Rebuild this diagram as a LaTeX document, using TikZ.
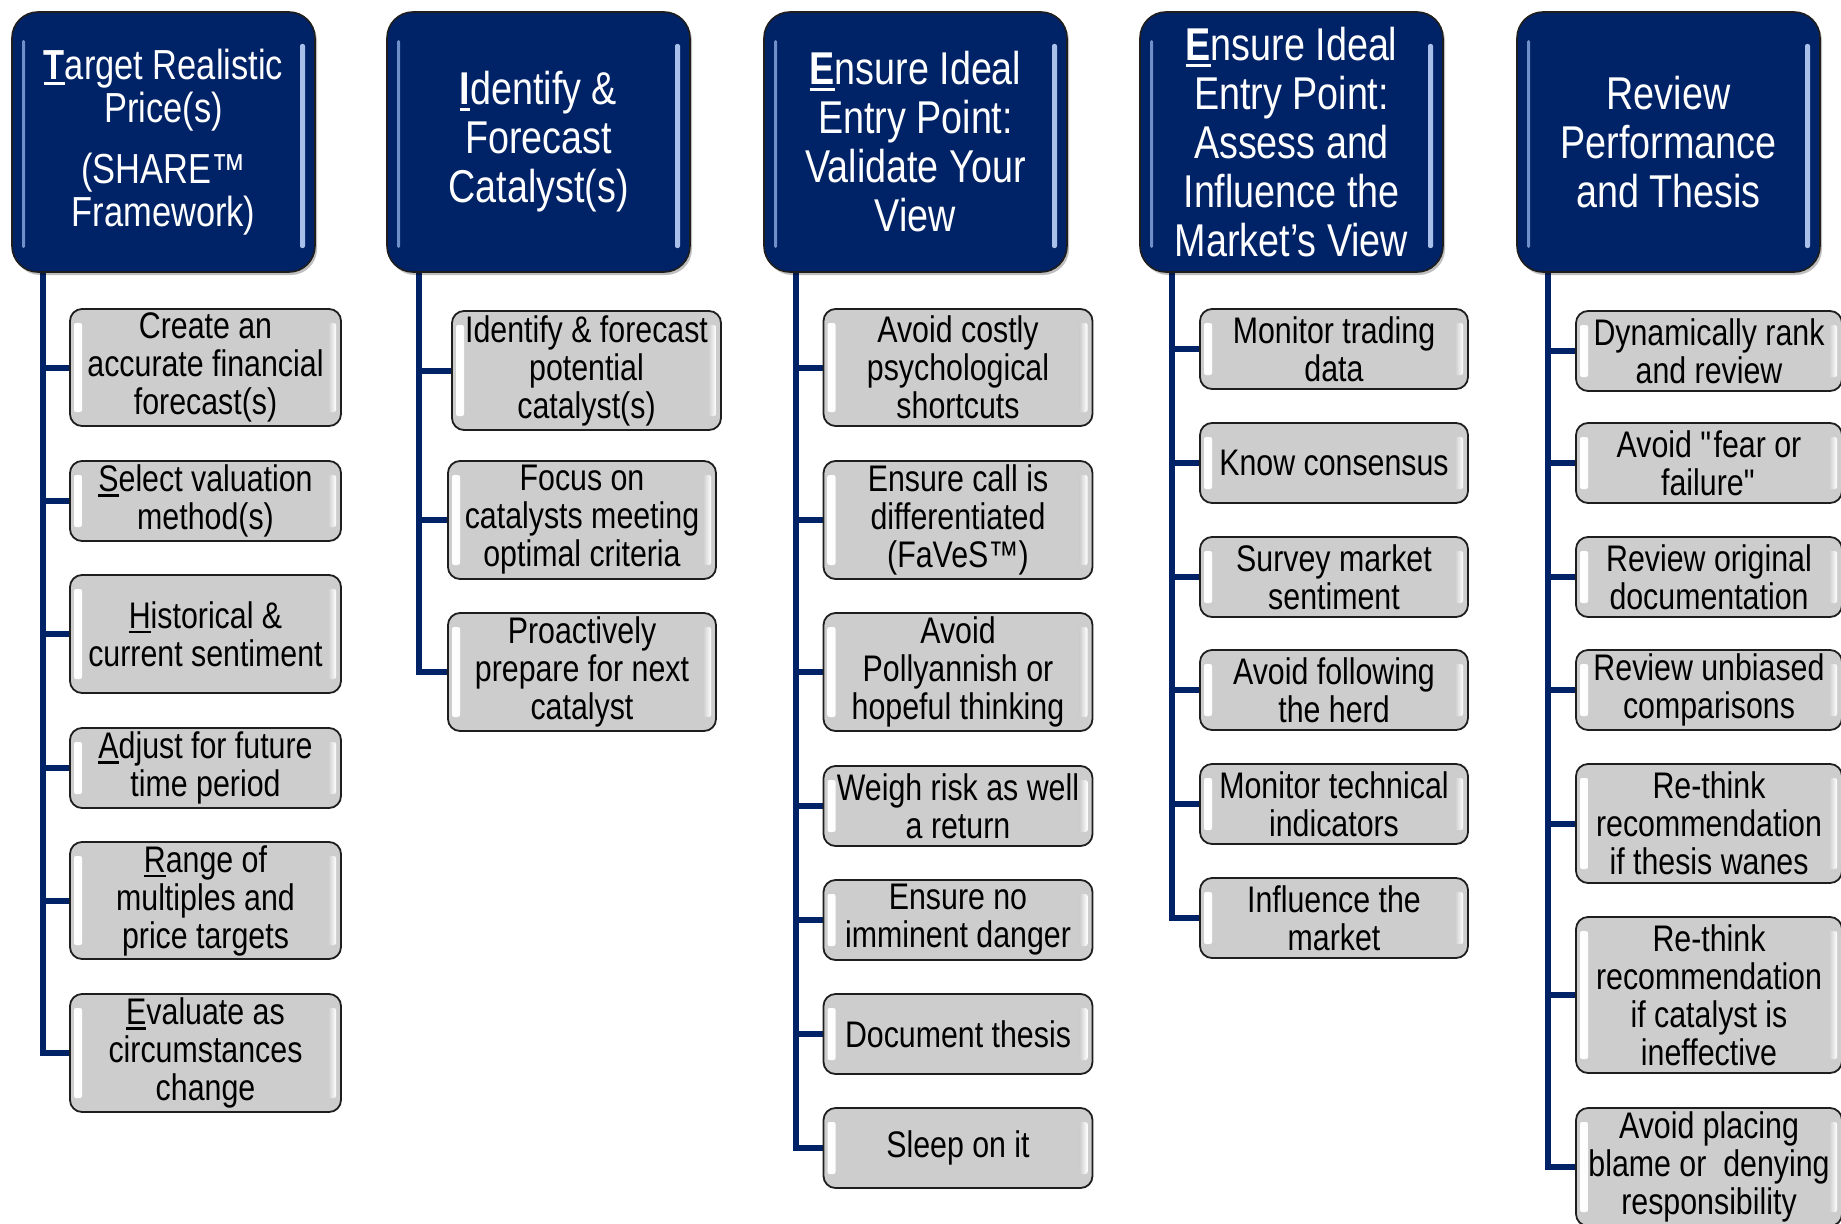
\documentclass[tikz,border=0pt]{standalone}
\usepackage{fontspec}
\setmainfont{Liberation Sans}[FakeStretch=0.82]
\usetikzlibrary{backgrounds}

\definecolor{navy}{HTML}{002266}
\definecolor{boxgray}{HTML}{CDCDCD}
\definecolor{edge}{HTML}{1E1E1E}
\definecolor{glowblue}{HTML}{6F8FC8}
\definecolor{glowlight}{HTML}{A9C1EA}

% underlined initial letter (the SHARE acronym)
\newcommand\initial[1]{\setbox0=\hbox{#1}\rlap{\rule[-0.14em]{\wd0}{0.07em}}\box0}
% straight double quote, set as a glyph so the TeX mapping leaves it alone
\newcommand\dq{\XeTeXglyph\XeTeXcharglyph"22\relax}

\tikzset{
  head/.style={draw=edge, line width=1.6pt, fill=navy, rounded corners=26pt,
    minimum width=303pt, minimum height=260pt, inner sep=0pt, text=white,
    align=center, font=\fontsize{46}{49}\selectfont,
    preaction={fill=black, opacity=0.25, transform canvas={xshift=2pt, yshift=-3pt}},
    path picture={
      \fill[glowblue, rounded corners=1.5pt]
        ([xshift=10pt,yshift=-28pt]path picture bounding box.north west) rectangle
        ([xshift=13pt,yshift=24pt]path picture bounding box.south west);
      \fill[glowlight, rounded corners=2pt]
        ([xshift=-10pt,yshift=-32pt]path picture bounding box.north east) rectangle
        ([xshift=-15pt,yshift=24pt]path picture bounding box.south east);
    }},
  item/.style={draw=edge, line width=1.8pt, fill=boxgray, rounded corners=12pt,
    inner sep=0pt, align=center, font=\fontsize{37}{38}\selectfont,
    path picture={
      \shade[left color=white, right color=boxgray, rounded corners=2pt]
        ([xshift=4pt,yshift=-14pt]path picture bounding box.north west) rectangle
        ([xshift=12pt,yshift=14pt]path picture bounding box.south west);
      \shade[left color=boxgray, right color=white, rounded corners=2pt]
        ([xshift=-13pt,yshift=-14pt]path picture bounding box.north east) rectangle
        ([xshift=-5pt,yshift=14pt]path picture bounding box.south east);
    }},
  link/.style={draw=navy, line width=6pt, line join=miter}
}

\begin{document}
\begin{tikzpicture}[x=1pt, y=-1pt]
\path[use as bounding box, clip] (0,0) rectangle (1841,1223);

% ---- column headers ----
\node[head, font=\fontsize{42}{43}\selectfont] (h1) at (163.5,142)
  {\initial{\bfseries T}arget Realistic\\Price(s)\\[18pt](SHARE™\\Framework)};
\node[head] (h2) at (538.5,142) {\initial{\bfseries I}dentify \&\\Forecast\\Catalyst(s)};
\node[head] (h3) at (915.5,142) {\initial{\bfseries E}nsure Ideal\\Entry Point:\\Validate Your\\View};
\node[head] (h4) at (1291.5,142) {\initial{\bfseries E}nsure Ideal\\Entry Point:\\Assess and\\Influence the\\Market’s View};
\node[head] (h5) at (1668.5,142) {Review\\Performance\\and Thesis};

% ---- column 1 ----
\begin{scope}[every node/.append style={minimum width=271pt}]
\node[item, minimum height=117pt] (a1) at (205.5,367.5) {Create an\\accurate financial\\forecast(s)};
\node[item, minimum height=80pt]  (a2) at (205.5,501) {\initial{S}elect valuation\\method(s)};
\node[item, minimum height=118pt] (a3) at (205.5,634) {\initial{H}istorical \&\\current sentiment};
\node[item, minimum height=80pt]  (a4) at (205.5,768) {\initial{A}djust for future\\time period};
\node[item, minimum height=117pt] (a5) at (205.5,900.5) {\initial{R}ange of\\multiples and\\price targets};
\node[item, minimum height=118pt] (a6) at (205.5,1053) {\initial{E}valuate as\\circumstances\\change};
\end{scope}

% ---- column 2 ----
\node[item, minimum width=269pt, minimum height=119pt] (b1) at (586.5,370.5) {Identify \& forecast\\potential\\catalyst(s)};
\node[item, minimum width=268pt, minimum height=118pt] (b2) at (582,520) {Focus on\\catalysts meeting\\optimal criteria};
\node[item, minimum width=268pt, minimum height=118pt] (b3) at (582,672) {Proactively\\prepare for next\\catalyst};

% ---- column 3 ----
\begin{scope}[every node/.append style={minimum width=269pt}]
\node[item, minimum height=117pt] (c1) at (958,367.5) {Avoid costly\\psychological\\shortcuts};
\node[item, minimum height=118pt] (c2) at (958,520) {Ensure call is\\differentiated\\(FaVeS™)};
\node[item, minimum height=118pt] (c3) at (958,672) {Avoid\\Pollyannish or\\hopeful thinking};
\node[item, minimum height=80pt]  (c4) at (958,806) {Weigh risk as well\\a return};
\node[item, minimum height=80pt]  (c5) at (958,920) {Ensure no\\imminent danger};
\node[item, minimum height=80pt]  (c6) at (958,1034) {Document thesis};
\node[item, minimum height=80pt]  (c7) at (958,1148) {Sleep on it};
\end{scope}

% ---- column 4 ----
\begin{scope}[every node/.append style={minimum width=268pt, minimum height=80pt}]
\node[item] (d1) at (1334,349) {Monitor trading\\data};
\node[item] (d2) at (1334,463) {Know consensus};
\node[item] (d3) at (1334,577) {Survey market\\sentiment};
\node[item] (d4) at (1334,690) {Avoid following\\the herd};
\node[item] (d5) at (1334,804) {Monitor technical\\indicators};
\node[item] (d6) at (1334,918) {Influence the\\market};
\end{scope}

% ---- column 5 ----
\begin{scope}[every node/.append style={minimum width=266pt}]
\node[item, minimum height=80pt]  (e1) at (1709,351) {Dynamically rank\\and review};
\node[item, minimum height=80pt]  (e2) at (1709,463) {Avoid \dq fear or\\failure\dq};
\node[item, minimum height=80pt]  (e3) at (1709,577) {Review original\\documentation};
\node[item, minimum height=80pt]  (e4) at (1709,690) {Review unbiased\\comparisons};
\node[item, minimum height=119pt] (e5) at (1709,823.5) {Re-think\\recommendation\\if thesis wanes};
\node[item, minimum height=156pt] (e6) at (1709,995) {Re-think\\recommendation\\if catalyst is\\ineffective};
\node[item, minimum height=118pt] (e7) at (1709,1167) {Avoid placing\\blame or~ denying\\responsibility};
\end{scope}

% ---- trunk start points under each header ----
\coordinate (t1) at (43,272);
\coordinate (t2) at (419,272);
\coordinate (t3) at (796,272);
\coordinate (t4) at (1172,272);
\coordinate (t5) at (1548,272);

% ---- connectors, behind the boxes ----
\begin{scope}[on background layer]
\fill[white] (0,0) rectangle (1841,1223);
\foreach \n in {a1,a2,a3,a4,a5,a6} \draw[link] (t1) |- (\n.west);
\foreach \n in {b1,b2,b3} \draw[link] (t2) |- (\n.west);
\foreach \n in {c1,c2,c3,c4,c5,c6,c7} \draw[link] (t3) |- (\n.west);
\foreach \n in {d1,d2,d3,d4,d5,d6} \draw[link] (t4) |- (\n.west);
\foreach \n in {e1,e2,e3,e4,e5,e6,e7} \draw[link] (t5) |- (\n.west);
\end{scope}
\end{tikzpicture}
\end{document}
